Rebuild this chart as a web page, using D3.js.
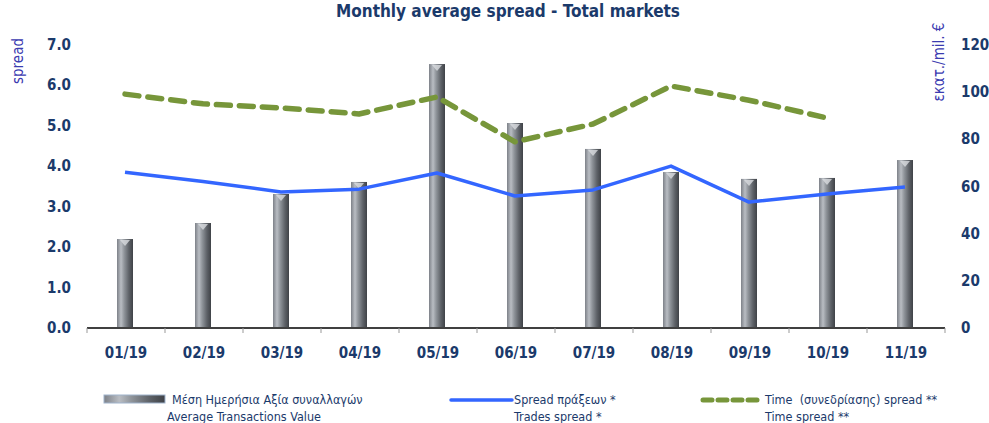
<!DOCTYPE html>
<html>
<head>
<meta charset="utf-8">
<script src="https://cdn.jsdelivr.net/npm/d3@7"></script>
<style>
  body { margin: 0; background: #fff; }
  svg { display: block; font-family: "DejaVu Sans Condensed", "DejaVu Sans", sans-serif; }
</style>
</head>
<body>
<svg width="989" height="423"></svg>
<script>
const months = ["01/19", "02/19", "03/19", "04/19", "05/19", "06/19", "07/19", "08/19", "09/19", "10/19", "11/19"];
const avgValue = [37.3, 44.1, 56.4, 61.5, 111.5, 86.5, 75.5, 65.7, 62.8, 63.2, 70.8];
const tradesSpread = [3.83, 3.6, 3.34, 3.41, 3.81, 3.24, 3.39, 3.98, 3.09, 3.29, 3.46];
const timeSpread = [5.76, 5.52, 5.42, 5.27, 5.69, 4.58, 5.02, 5.96, 5.61, 5.17, null];
const leftTicks = [0, 1, 2, 3, 4, 5, 6, 7];
const rightTicks = [0, 20, 40, 60, 80, 100, 120];

const NAVY = "#1b3a6b";
const AXIS_TITLE = "#3b3bb0";
const [X0, X1] = [87, 945];
const [Y0, Y1] = [327, 44];

const svg = d3.select("svg");

const x = d3.scaleBand().domain(months).range([X0, X1]);
const yL = d3.scaleLinear().domain([0, 7]).range([Y0, Y1]);
const yR = d3.scaleLinear().domain([0, 120]).range([Y0, Y1]);

// bar gradient (cylinder look)
const defs = svg.append("defs");
const grad = defs.append("linearGradient").attr("id", "cyl").attr("x1", 0).attr("x2", 1).attr("y1", 0).attr("y2", 0);
[["0%", "#7d8188"], ["25%", "#b9bdc3"], ["45%", "#8f949a"], ["75%", "#5d6167"], ["100%", "#3f4247"]]
  .forEach(([o, c]) => grad.append("stop").attr("offset", o).attr("stop-color", c));

// title
svg.append("text")
  .attr("x", 508).attr("y", 17)
  .attr("text-anchor", "middle")
  .attr("font-size", 17).attr("font-weight", 600)
  .attr("fill", NAVY)
  .text("Monthly average spread - Total markets");

// bars
const BW = 16;
svg.selectAll("rect.bar")
  .data(months)
  .enter()
  .append("rect")
  .classed("bar", true)
  .attr("x", (m) => x(m) + x.bandwidth() / 2 - BW / 2 - 1)
  .attr("y", (m, i) => yR(avgValue[i]))
  .attr("width", BW)
  .attr("height", (m, i) => Y0 - yR(avgValue[i]))
  .attr("fill", "url(#cyl)");

// bar caps
svg.selectAll("path.cap")
  .data(months)
  .enter()
  .append("path")
  .classed("cap", true)
  .attr("d", (m, i) => {
    const cx = x(m) + x.bandwidth() / 2 - 1;
    const top = yR(avgValue[i]);
    return `M${cx - 5},${top + 1}L${cx + 5},${top + 1}L${cx},${top + 7}Z`;
  })
  .attr("fill", "#d9dce0")
  .attr("opacity", 0.8);

// baseline and ticks
svg.append("line")
  .attr("x1", X0).attr("x2", X1).attr("y1", Y0 + 1).attr("y2", Y0 + 1)
  .attr("stroke", "#000").attr("stroke-width", 1.3);
svg.selectAll("line.xtick")
  .data(months.concat(["end"]))
  .enter()
  .append("line")
  .classed("xtick", true)
  .attr("x1", (m, i) => X0 + i * x.bandwidth())
  .attr("x2", (m, i) => X0 + i * x.bandwidth())
  .attr("y1", Y0 + 1).attr("y2", Y0 + 6)
  .attr("stroke", "#999");

// x labels
svg.selectAll("text.xl")
  .data(months)
  .enter()
  .append("text")
  .classed("xl", true)
  .attr("x", (m) => x(m) + x.bandwidth() / 2)
  .attr("y", 358)
  .attr("text-anchor", "middle")
  .attr("font-size", 15).attr("font-weight", "bold")
  .attr("fill", NAVY)
  .text((m) => m);

// left axis labels
svg.selectAll("text.yl")
  .data(leftTicks)
  .enter()
  .append("text")
  .classed("yl", true)
  .attr("x", 71)
  .attr("y", (v) => yL(v) + 6)
  .attr("text-anchor", "end")
  .attr("font-size", 15).attr("font-weight", "bold")
  .attr("fill", NAVY)
  .text((v) => v.toFixed(1));

// right axis labels
svg.selectAll("text.yr")
  .data(rightTicks)
  .enter()
  .append("text")
  .classed("yr", true)
  .attr("x", 961)
  .attr("y", (v) => yR(v) + 6)
  .attr("text-anchor", "start")
  .attr("font-size", 15).attr("font-weight", "bold")
  .attr("fill", NAVY)
  .text((v) => v);

// axis titles
svg.append("text")
  .attr("transform", "translate(23,61) rotate(-90)")
  .attr("text-anchor", "middle")
  .attr("font-size", 15)
  .attr("fill", AXIS_TITLE)
  .text("spread");
svg.append("text")
  .attr("transform", "translate(944,62) rotate(-90)")
  .attr("text-anchor", "middle")
  .attr("font-size", 15)
  .attr("fill", AXIS_TITLE)
  .text("εκατ./mil. €");

// lines
const cx = (i) => x(months[i]) + x.bandwidth() / 2 - 1;
const tradesLine = d3.line().x((d, i) => cx(i)).y((d) => yL(d));
svg.append("path")
  .datum(tradesSpread)
  .attr("d", tradesLine)
  .attr("fill", "none")
  .attr("stroke", "#3366ff")
  .attr("stroke-width", 3.5)
  .attr("stroke-linejoin", "round");

const timeLine = d3.line()
  .defined((d) => d !== null)
  .x((d, i) => cx(i)).y((d) => yL(d));
svg.append("path")
  .datum(timeSpread)
  .attr("d", timeLine)
  .attr("fill", "none")
  .attr("stroke", "#77963a")
  .attr("stroke-width", 5.5)
  .attr("stroke-dasharray", "14,9")
  .attr("stroke-linecap", "round")
  .attr("stroke-linejoin", "round");

// legend
const lg = svg.append("g").attr("font-size", 12.5).attr("fill", NAVY);
lg.append("rect")
  .attr("x", 104).attr("y", 395).attr("width", 61).attr("height", 8)
  .attr("fill", "url(#cyl)").attr("stroke", "#9fb3cc").attr("stroke-width", 1);
lg.append("text").attr("x", 172).attr("y", 404).text("Μέση Ημερήσια Αξία συναλλαγών");
lg.append("text").attr("x", 167).attr("y", 421).text("Average Transactions Value");

lg.append("line")
  .attr("x1", 451).attr("x2", 512).attr("y1", 400).attr("y2", 400)
  .attr("stroke", "#3366ff").attr("stroke-width", 3.5).attr("stroke-linecap", "round");
lg.append("text").attr("x", 514).attr("y", 404).text("Spread πράξεων *");
lg.append("text").attr("x", 514).attr("y", 421).text("Trades spread *");

lg.append("line")
  .attr("x1", 703).attr("x2", 758).attr("y1", 400).attr("y2", 400)
  .attr("stroke", "#77963a").attr("stroke-width", 5).attr("stroke-dasharray", "9,6")
  .attr("stroke-linecap", "round");
lg.append("text").attr("x", 765).attr("y", 404).text("Time  (συνεδρίασης) spread **").style("white-space", "pre");
lg.append("text").attr("x", 765).attr("y", 421).text("Time spread **");
</script>
</body>
</html>
